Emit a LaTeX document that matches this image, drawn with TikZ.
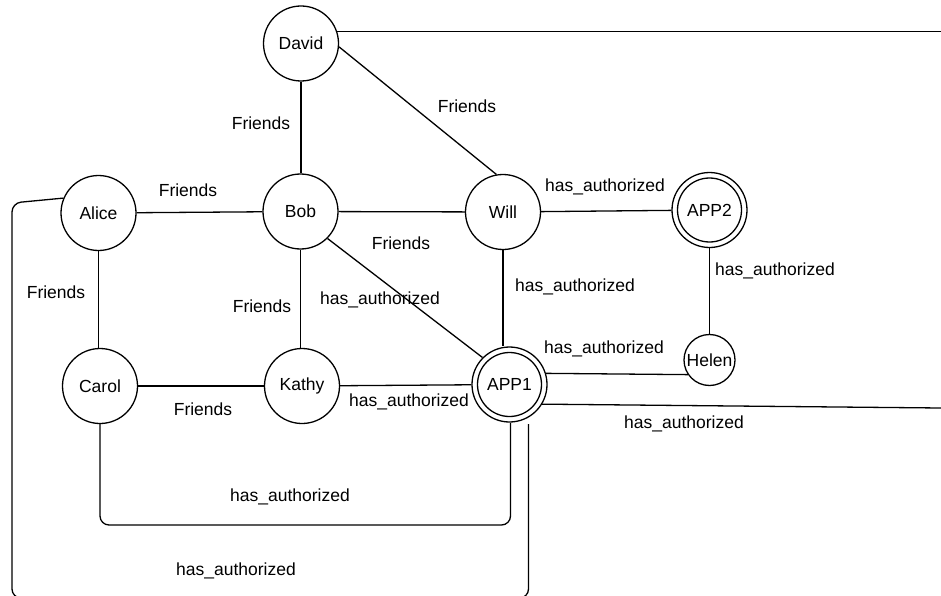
\documentclass[tikz,border=0pt]{standalone}
\usepackage{fontspec}
\setmainfont{Liberation Sans}
\usetikzlibrary{calc}
\begin{document}
\begin{tikzpicture}[x=1pt,y=-1pt,
  every node/.style={font=\fontsize{17.5}{20}\selectfont},
  person/.style={circle,draw,line width=1.3pt,minimum size=75pt,inner sep=0pt},
  small/.style={person,minimum size=51pt},
  edge/.style={line width=1.3pt},
  route/.style={edge,rounded corners=9pt},
  lbl/.style={inner sep=0pt}]
\useasboundingbox (0,0) rectangle (941,596);
\clip (0,0) rectangle (941,596);

% people and apps
\node[person] (david) at (301,43.5) {David};
\node[person] (alice) at (98.5,213) {Alice};
\node[person] (bob)   at (300.5,211.5) {Bob};
\node[person] (will)  at (503,212) {Will};
\node[person] (app2)  at (709.5,210) {APP2};
\node[person] (carol) at (100,386) {Carol};
\node[person] (kathy) at (302,386) {Kathy};
\node[person] (app1)  at (509.5,384.5) {APP1};
\node[small]  (helen) at (709.5,360) {Helen};
\draw[edge] (app1.center) circle[radius=32pt];
\draw[edge] (app2.center) circle[radius=32pt];

% free ends at the right border
\coordinate (eastA) at (941,32);
\coordinate (eastB) at (941,408);

% friendships
\draw[edge] (david.18) -- (david.18 -| eastA);
\draw[edge] (david.south) -- (david.south |- bob.north);
\draw[edge] (david.-5) -- (will.100);
\draw[edge] (alice) -- (bob);
\draw[edge] (bob) -- (will);
\draw[edge] (alice.south) -- (alice.south |- carol.north);
\draw[edge] (bob.south) -- (bob.south |- kathy.north);
\draw[edge] (carol) -- (kathy);

% authorizations
\draw[edge] (will) -- (app2);
\draw[edge] (app2) -- (helen);
\draw[edge] (bob.-45) -- (app1.135);
\draw[edge] (will.south) -- (will.south |- app1.north);
\draw[edge] (kathy) -- (app1);
\draw[edge] (app1.17) -- (helen.214);
\draw[edge] (app1.-31) -- (eastB);
\draw[route] (carol.south) -- (100,525) -- (510.5,525) -- ($(app1.south)+(1,0.5)$);
\draw[route] (alice.157) -- (12,203) -- (12,598) -- (528.5,598) -- ($(app1.south)+(19,1.5)$);

% labels
\node[lbl] (t1)  at (261,123) {Friends};
\node[lbl] (t2)  at (467,106) {Friends};
\node[lbl] (t3)  at (188,190) {Friends};
\node[lbl] (t4)  at (401,243) {Friends};
\node[lbl] (t5)  at (605,187) {has\_authorized};
\node[lbl] (t6)  at (56,292)  {Friends};
\node[lbl] (t7)  at (262,306) {Friends};
\node[lbl] (t8)  at (380,300) {has\_authorized};
\node[lbl] (t9)  at (575,287) {has\_authorized};
\node[lbl] (t10) at (775,271) {has\_authorized};
\node[lbl] (t11) at (604,349) {has\_authorized};
\node[lbl] (t12) at (203,409) {Friends};
\node[lbl] (t13) at (409,402) {has\_authorized};
\node[lbl] (t14) at (684,424) {has\_authorized};
\node[lbl] (t15) at (290,497) {has\_authorized};
\node[lbl] (t16) at (236,571) {has\_authorized};
\end{tikzpicture}
\end{document}
